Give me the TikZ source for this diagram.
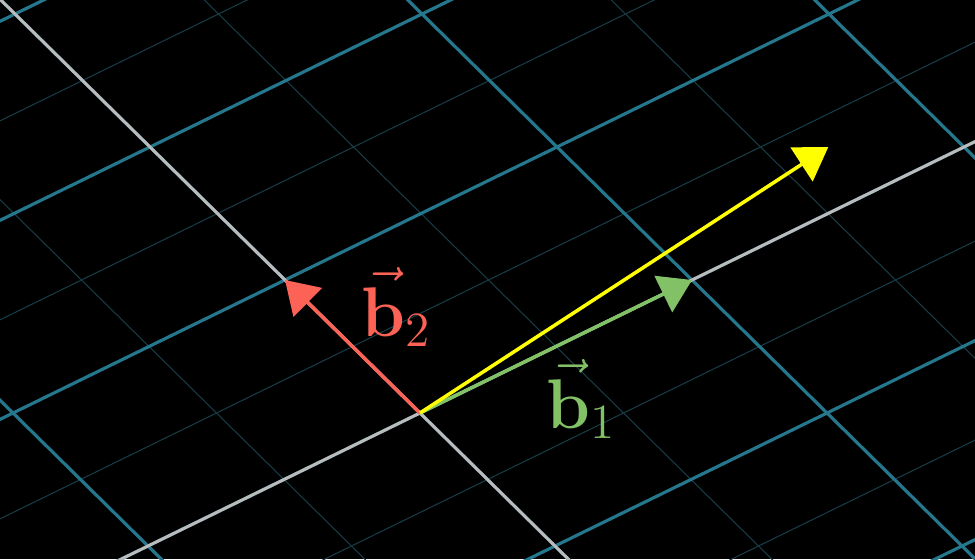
\documentclass[tikz,border=0pt]{standalone}
\usepackage{fix-cm}
\usepackage{tikz}
\usetikzlibrary{arrows.meta}

\definecolor{gridblue}{HTML}{24778D}
\definecolor{gridfaint}{HTML}{173C45}
\definecolor{axisgray}{HTML}{BBBBBB}
\definecolor{bred}{HTML}{FC6255}
\definecolor{bgreen}{HTML}{83C167}
\definecolor{vyellow}{HTML}{FFFF00}

\begin{document}
\begin{tikzpicture}[
    >={Triangle[length=3.2mm, width=4mm]},
    major/.style={draw=gridblue, line width=0.9pt},
    minor/.style={draw=gridfaint, line width=0.3pt},
    axis/.style={draw=axisgray, line width=0.85pt},
    vec/.style={->, line width=1pt},
    lbl/.style={font=\fontsize{20}{24}\selectfont, inner sep=0pt}
]
  \fill[black] (0,0) rectangle (9.75,5.59);
  \useasboundingbox (0,0) rectangle (9.75,5.59);

  \begin{scope}
    \clip (0,0) rectangle (9.75,5.59);
    \begin{scope}[shift={(4.20,1.46)}, x={(2.72cm,1.33cm)}, y={(-1.35cm,1.33cm)}]
      % faint half steps
      \foreach \i in {-3.5,-2.5,...,4.5} {
        \draw[minor] (\i,-4) -- (\i,5);
        \draw[minor] (-4,\i) -- (5,\i);
      }
      % whole steps
      \foreach \i in {-4,...,5} {
        \draw[major] (\i,-4) -- (\i,5);
        \draw[major] (-4,\i) -- (5,\i);
      }
      \draw[axis] (-4,0) -- (5,0);
      \draw[axis] (0,-4) -- (0,5);

      \coordinate (O)  at (0,0);
      \coordinate (B1) at (1,0);
      \coordinate (B2) at (0,1);
      \coordinate (V)  at (5/3,1/3);
    \end{scope}
  \end{scope}

  \draw[vec, bgreen]  (O) -- (B1);
  \draw[vec, bred]    (O) -- (B2);
  \draw[vec, vyellow] (O) -- (V);

  \node[lbl, text=bred]   (lb2) at (3.96,2.52) {$\vec{\mathbf{b}}_2$};
  \node[lbl, text=bgreen] (lb1) at (5.81,1.60) {$\vec{\mathbf{b}}_1$};
\end{tikzpicture}
\end{document}
